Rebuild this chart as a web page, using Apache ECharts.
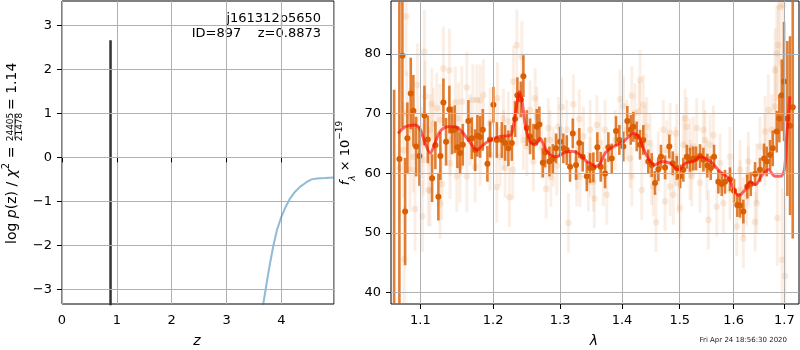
<!DOCTYPE html>
<html>
<head>
<meta charset="utf-8">
<script src="https://cdn.jsdelivr.net/npm/echarts@6/dist/echarts.min.js"></script>
<style>
  html, body { margin: 0; padding: 0; background: #fff; }
  #chart { width: 800px; height: 350px; }
</style>
</head>
<body>
<div id="chart"></div>
<script>
// ---- left panel: log p(z)
var zTicks = [0, 1, 2, 3, 4];
var logpTicks = [-3, -2, -1, 0, 1, 2, 3];
var spikeZ = [0.885, 0.885];
var spikeLogp = [-3.6, 2.66];
var pzZ = [3.64, 3.67, 3.72, 3.78, 3.85, 3.92, 4.0, 4.08, 4.15, 4.25, 4.34, 4.45, 4.55, 4.65, 4.8, 4.96];
var pzLogp = [-3.6, -3.33, -2.95, -2.5, -2.03, -1.65, -1.35, -1.12, -0.95, -0.78, -0.67, -0.57, -0.5, -0.48, -0.47, -0.455];

// ---- right panel: spectrum
var lamTicks = [1.1, 1.2, 1.3, 1.4, 1.5, 1.6, 1.7];
var fluxTicks = [40, 50, 60, 70, 80];

// individual pixels (faint)
var rawLam = [1.0727,1.0779,1.0788,1.0813,1.0822,1.0865,1.0865,1.0908,1.0930,1.0961,1.1018,1.1026,1.1039,1.1053,1.1062,1.1106,1.1128,1.1128,1.1151,1.1172,
  1.1218,1.1262,1.1262,1.1285,1.1307,1.1388,1.1398,1.1398,1.1470,1.1490,1.1511,1.1535,1.1558,1.1628,1.1628,1.1674,1.1712,1.1744,1.1768,1.1814,
  1.1814,1.1861,1.1956,1.1956,1.2053,1.2061,1.2100,1.2148,1.2148,1.2173,1.2221,1.2236,1.2285,1.2294,1.2344,1.2344,1.2419,1.2442,1.2493,1.2542,
  1.2592,1.2618,1.2643,1.2719,1.2785,1.2820,1.2846,1.2857,1.2897,1.2949,1.2974,1.3027,1.3104,1.3130,1.3209,1.3262,1.3262,1.3303,1.3314,1.3368,
  1.3449,1.3475,1.3475,1.3528,1.3545,1.3584,1.3637,1.3691,1.3719,1.3747,1.3884,1.3967,1.4022,1.4080,1.4135,1.4164,1.4164,1.4220,1.4293,1.4305,
  1.4334,1.4361,1.4391,1.4420,1.4477,1.4506,1.4534,1.4581,1.4621,1.4709,1.4739,1.4769,1.4828,1.4828,1.4886,1.4917,1.4947,1.4976,1.5006,1.5065,
  1.5096,1.5127,1.5186,1.5186,1.5217,1.5246,1.5308,1.5369,1.5430,1.5462,1.5493,1.5523,1.5554,1.5616,1.5679,1.5742,1.5804,1.5930,1.5930,1.6059,
  1.6122,1.6122,1.6186,1.6186,1.6251,1.6282,1.6282,1.6414,1.6447,1.6447,1.6512,1.6612,1.6612,1.6678,1.6745,1.6812,1.6812,1.6846,1.6858,1.6878,
  1.6913,1.6953,1.6979,1.7014];
var rawFlux = [60.9,63.9,45.6,86.3,70.1,67.3,60.6,62.8,54.0,74.8,65.1,52.8,62.3,80.4,72.9,57.2,57.1,67.3,71.6,68.3,
  70.9,55.0,69.0,58.2,77.6,77.3,61.7,65.6,71.9,59.5,69.2,61.1,72.0,74.4,59.5,67.3,72.3,61.1,72.3,72.2,
  63.9,73.1,68.4,63.1,57.7,72.6,62.8,69.2,65.6,60.9,68.7,56.0,60.6,75.4,81.5,69.5,79.5,65.6,64.5,70.6,
  62.0,72.6,69.5,64.2,57.4,67.6,65.6,59.4,62.8,61.3,67.8,71.1,67.3,51.7,71.6,59.5,62.3,69.1,59.4,66.2,
  58.6,67.3,61.1,58.6,55.8,68.1,65.1,59.5,67.3,56.4,65.6,72.4,71.3,67.3,62.5,73.0,59.5,70.1,70.4,75.7,
  57.2,71.5,66.2,67.8,65.1,59.7,57.8,51.8,62.0,67.3,55.3,63.9,66.8,57.8,56.4,62.8,66.7,58.4,54.2,64.8,
  69.2,67.8,60.6,64.2,59.5,64.5,67.6,58.4,67.3,65.6,60.6,52.2,64.8,66.4,54.4,61.7,55.0,62.8,57.2,51.1,
  57.2,60.6,49.1,54.4,56.1,59.5,62.0,51.9,60.0,55.0,64.5,67.0,63.9,70.6,67.3,77.3,71.2,80.1,52.5,81.5,
  87.9,45.5,88.2,42.8];
var rawErr = [9,8,9,10,7,7,7,6,7,7,6,6,6,7,6,6,6,6,6,6,
  6,6,6,6,7,7,6,6,6,6,6,6,6,6,6,6,6,6,6,6,
  6,6,6,6,6,6,5,5,5,5,5,5,5,6,6,5,6,5,5,5,
  5,5,5,5,5,5,5,5,5,5,5,5,5,5,5,5,5,5,5,5,
  5,5,5,5,5,5,5,5,5,5,5,5,5,5,5,5,5,5,5,5,
  5,5,5,5,5,5,5,5,5,5,5,5,5,5,5,5,5,5,5,5,
  5,5,5,5,5,5,5,5,5,5,5,5,5,5,5,5,5,5,5,5,
  5,5,5,5,5,5,5,5,5,5,5,6,6,6,6,7,7,8,8,9,
  10,12,12,14];

// binned spectrum (dark)
var binLam = [1.0660,1.0727,1.0766,1.0801,1.0830,1.0874,1.0908,1.0944,1.0987,1.1053,1.1098,1.1155,1.1199,1.1239,1.1266,1.1307,1.1343,1.1388,1.1425,1.1462,
  1.1498,1.1535,1.1572,1.1650,1.1697,1.1744,1.1776,1.1814,1.1852,1.1918,1.1956,1.2004,1.2053,1.2125,1.2173,1.2221,1.2271,1.2319,1.2353,1.2404,
  1.2442,1.2493,1.2542,1.2592,1.2643,1.2682,1.2734,1.2769,1.2835,1.2887,1.2938,1.3000,1.3051,1.3104,1.3156,1.3199,1.3251,1.3303,1.3357,1.3422,
  1.3475,1.3528,1.3593,1.3648,1.3719,1.3773,1.3829,1.3900,1.3955,1.4022,1.4089,1.4147,1.4191,1.4248,1.4305,1.4361,1.4447,1.4506,1.4563,1.4621,
  1.4668,1.4739,1.4815,1.4875,1.4947,1.5006,1.5065,1.5127,1.5186,1.5246,1.5296,1.5369,1.5430,1.5504,1.5567,1.5629,1.5709,1.5773,1.5835,1.5930,
  1.6007,1.6070,1.6122,1.6186,1.6263,1.6330,1.6414,1.6512,1.6592,1.6645,1.6711,1.6765,1.6846,1.6898,1.6947,1.6993,1.7061,1.7116,1.7171];
var binFlux = [36.0,62.4,79.7,53.6,65.9,73.4,70.5,64.5,62.9,69.7,65.7,59.2,64.7,56.1,62.9,71.9,65.3,70.7,67.2,67.4,
  64.4,63.4,64.8,68.8,65.9,63.9,66.3,66.1,67.3,61.6,65.7,71.5,65.6,65.6,65.1,64.2,65.1,69.1,73.1,72.4,
  76.3,67.6,66.2,65.3,67.8,68.2,61.8,63.5,62.0,62.4,64.2,65.3,64.2,63.9,61.1,66.7,61.4,65.1,62.8,59.5,
  60.9,61.0,64.4,61.1,60.0,64.4,62.5,67.1,65.6,64.5,68.8,67.3,67.8,66.2,64.8,65.6,62.0,61.4,58.4,60.7,
  62.8,61.0,64.5,61.7,60.9,59.5,60.6,62.8,62.3,62.5,62.5,62.9,62.3,61.3,60.9,62.8,58.6,58.2,58.6,59.0,
  57.1,54.7,54.6,53.6,57.8,58.2,59.9,60.6,62.5,62.0,63.1,64.2,67.0,69.2,73.1,75.4,69.2,68.0,71.1];
var binErr = [38,30,12,9,6,6,6,5,5,5,4,4,4,4,4,4,4,4,4,4,
  3.5,3.5,3.5,3.5,3.5,3.5,3.5,3.5,3.5,3,3,3,3,3,3,3,3,3,3,3,
  3.5,3,3,3,3,3,2.5,2.5,2.5,2.5,2.5,2.5,2.5,2.5,2.5,2.5,2.5,2.5,2.5,2.5,
  2.5,2.5,2.5,2.5,2.5,2.5,2.5,2.5,2.5,2.5,2.5,2.5,2.5,2.5,2.5,2.5,2,2,2,2,
  2,2,2,2,2,2,2,2,2,2,2,2,2,2,2,2,2,2,2,2,
  2,2,2,2,2,2,2,2,2.5,2.5,2.5,3,3.5,4,6,10,13,15,22];

// best-fit template
var modelLam = [1.071,1.080,1.093,1.100,1.106,1.113,1.120,1.126,1.137,1.147,1.156,1.165,1.177,1.186,1.196,1.210,1.225,1.229,1.234,1.238,
  1.242,1.247,1.254,1.262,1.269,1.277,1.285,1.295,1.305,1.318,1.332,1.342,1.353,1.356,1.364,1.372,1.386,1.402,1.419,1.428,
  1.436,1.448,1.456,1.468,1.483,1.498,1.510,1.525,1.537,1.556,1.574,1.590,1.609,1.622,1.632,1.642,1.655,1.668,1.681,1.692,
  1.700,1.705,1.708,1.711];
var modelFlux = [66.7,67.8,68.1,67.3,65.1,63.4,65.3,67.0,67.8,67.8,67.0,65.6,63.9,64.8,65.6,66.2,66.4,67.8,71.2,73.7,
  72.3,68.1,65.3,64.8,65.9,64.2,63.1,62.8,63.4,63.7,63.1,62.0,61.4,61.1,61.7,63.4,64.5,65.3,66.7,66.2,
  64.2,62.0,61.4,62.0,61.7,60.6,61.7,62.0,62.8,62.0,60.3,59.2,56.3,57.2,58.6,58.1,59.7,60.6,59.5,59.5,
  60.6,66.2,69.5,72.9];

var font = 'DejaVu Sans';
var ORANGE = 'rgb(217,95,2)';

function zip(a, b, c) {
  return a.map(function (v, i) { return c ? [v, b[i], c[i]] : [v, b[i]]; });
}

function minus(v) {
  return v < 0 ? '\u2212' + (-v) : String(v);
}

// error bars + marker, clipped to the plot box
function errSeries(data, barColor, barWidth, dotColor, r) {
  return {
    type: 'custom', xAxisIndex: 1, yAxisIndex: 1, silent: true,
    data: data,
    renderItem: function (params, api) {
      var x = api.value(0), y = api.value(1), e = api.value(2);
      var top = api.coord([x, y + e]);
      var bot = api.coord([x, y - e]);
      var c = api.coord([x, y]);
      var cs = params.coordSys;
      return {
        type: 'group',
        clipPath: { type: 'rect', shape: { x: cs.x, y: cs.y, width: cs.width, height: cs.height } },
        children: [
          { type: 'line', shape: { x1: top[0], y1: top[1], x2: bot[0], y2: bot[1] },
            style: { stroke: barColor, lineWidth: barWidth } },
          { type: 'circle', shape: { cx: c[0], cy: c[1], r: r }, style: { fill: dotColor } }
        ]
      };
    }
  };
}

var tickLabel = { color: '#000', fontFamily: font, fontSize: 13, margin: 10 };
var gridLine = { show: true, lineStyle: { color: '#b0b0b0', width: 1 } };
var tick = { show: true, length: 5, lineStyle: { color: '#000' } };

var chart = echarts.init(document.getElementById('chart'), null, { renderer: 'canvas' });

var option = {
  animation: false,
  backgroundColor: '#fff',
  grid: [
    { left: 62, top: 1, width: 272, height: 303, show: true, borderColor: '#000', borderWidth: 1, backgroundColor: 'transparent' },
    { left: 391, top: 1, width: 408, height: 303, show: true, borderColor: '#000', borderWidth: 1, backgroundColor: 'transparent' }
  ],
  xAxis: [
    { type: 'value', gridIndex: 0, min: 0, max: 4.96, interval: 1,
      axisLine: { show: false }, axisTick: tick, splitLine: gridLine,
      axisLabel: Object.assign({}, tickLabel, { showMaxLabel: false }) },
    { type: 'log', gridIndex: 1, min: 1.062, max: 1.730,
      axisLine: { show: false },
      axisTick: Object.assign({}, tick, { customValues: lamTicks }),
      splitLine: { show: false },
      axisLabel: Object.assign({}, tickLabel, { customValues: lamTicks, formatter: function (v) { return v.toFixed(1); } }) }
  ],
  yAxis: [
    { type: 'value', gridIndex: 0, min: -3.33, max: 3.55,
      axisLine: { show: false },
      axisTick: Object.assign({}, tick, { customValues: logpTicks }),
      splitLine: { show: false },
      axisLabel: Object.assign({}, tickLabel, { customValues: logpTicks, formatter: minus }) },
    { type: 'value', gridIndex: 1, min: 38.1, max: 88.9,
      axisLine: { show: false },
      axisTick: Object.assign({}, tick, { customValues: fluxTicks }),
      splitLine: { show: false },
      axisLabel: Object.assign({}, tickLabel, { customValues: fluxTicks }) }
  ],
  series: [
    // grid lines that follow the custom tick values
    { type: 'line', xAxisIndex: 0, yAxisIndex: 0, data: [], silent: true,
      markLine: { silent: true, symbol: 'none', label: { show: false }, animation: false,
        lineStyle: { color: '#b0b0b0', width: 1, type: 'solid' },
        data: logpTicks.map(function (v) { return { yAxis: v }; }) } },
    { type: 'line', xAxisIndex: 1, yAxisIndex: 1, data: [], silent: true,
      markLine: { silent: true, symbol: 'none', label: { show: false }, animation: false,
        lineStyle: { color: '#b0b0b0', width: 1, type: 'solid' },
        data: lamTicks.map(function (v) { return { xAxis: v }; })
          .concat(fluxTicks.map(function (v) { return { yAxis: v }; })) } },
    // p(z)
    { type: 'line', xAxisIndex: 0, yAxisIndex: 0, data: zip(spikeZ, spikeLogp), showSymbol: false,
      lineStyle: { color: '#333', width: 2.5 }, clip: true, z: 3 },
    { type: 'line', xAxisIndex: 0, yAxisIndex: 0, data: zip(pzZ, pzLogp), showSymbol: false,
      lineStyle: { color: 'rgba(31,119,180,0.5)', width: 2 }, clip: true, z: 3 },
    // spectrum
    errSeries(zip(rawLam, rawFlux, rawErr), 'rgba(217,95,2,0.1)', 3, 'rgba(217,95,2,0.12)', 3.3),
    errSeries(zip(binLam, binFlux, binErr), 'rgba(217,95,2,0.8)', 2.6, ORANGE, 3),
    { type: 'line', xAxisIndex: 1, yAxisIndex: 1, data: zip(modelLam, modelFlux), showSymbol: false,
      smooth: 0.3, lineStyle: { color: 'rgba(255,0,0,0.6)', width: 3 }, clip: true, z: 4 }
  ],
  graphic: [
    { type: 'text', right: 800 - 321, top: 12, style: { text: 'j161312p5650', font: '13px "DejaVu Sans"', fill: '#000', align: 'right' } },
    { type: 'text', right: 800 - 321, top: 27, style: { text: 'ID=897    z=0.8873', font: '13px "DejaVu Sans"', fill: '#000', align: 'right' } },
    // left y label, rotated
    { type: 'group', x: 12, y: 244, rotation: Math.PI / 2, children: [
      { type: 'text', x: 0, y: 0, style: {
          text: '{n|log }{i|p}{n|(z) / }{i|\u03c7}{sup|2}{n| =}',
          verticalAlign: 'middle', align: 'left',
          rich: {
            n: { fontFamily: font, fontSize: 14, lineHeight: 22, verticalAlign: 'middle' },
            i: { fontFamily: font, fontSize: 14, fontStyle: 'italic', lineHeight: 22, verticalAlign: 'middle' },
            sup: { fontFamily: font, fontSize: 10, lineHeight: 10, verticalAlign: 'top' }
          } } },
      { type: 'text', x: 117, y: -1.5, style: { text: '24405', font: '9px "DejaVu Sans"', align: 'center', verticalAlign: 'middle' } },
      { type: 'line', shape: { x1: 105, y1: 3, x2: 130, y2: 3 }, style: { stroke: '#000', lineWidth: 0.8 } },
      { type: 'text', x: 117, y: 8, style: { text: '21478', font: '9px "DejaVu Sans"', align: 'center', verticalAlign: 'middle' } },
      { type: 'text', x: 134, y: 0, style: { text: '= 1.14', font: '14px "DejaVu Sans"', align: 'left', verticalAlign: 'middle' } }
    ] },
    // right y label
    { type: 'text', x: 346, y: 153, rotation: Math.PI / 2, style: {
        text: '{i|f}{sub|\u03bb}{n| \u00d7 10}{sup|\u221219}',
        align: 'center', verticalAlign: 'middle',
        rich: {
          n: { fontFamily: font, fontSize: 13, lineHeight: 22, verticalAlign: 'middle' },
          i: { fontFamily: font, fontSize: 13, fontStyle: 'italic', lineHeight: 22, verticalAlign: 'middle' },
          sub: { fontFamily: font, fontSize: 9, fontStyle: 'italic', lineHeight: 10, verticalAlign: 'bottom' },
          sup: { fontFamily: font, fontSize: 9, lineHeight: 10, verticalAlign: 'top' }
        } } },
    // x labels
    { type: 'text', x: 197, y: 341, style: { text: 'z', font: 'italic 14px "DejaVu Sans"', align: 'center', verticalAlign: 'middle' } },
    { type: 'text', x: 594, y: 341, style: { text: '\u03bb', font: 'italic 14px "DejaVu Sans"', align: 'center', verticalAlign: 'middle' } },
    { type: 'text', x: 787, y: 340, style: { text: 'Fri Apr 24 18:56:30 2020', font: '7px "DejaVu Sans"', fill: '#222', align: 'right', verticalAlign: 'middle' } }
  ]
};

chart.setOption(option);
</script>
</body>
</html>
